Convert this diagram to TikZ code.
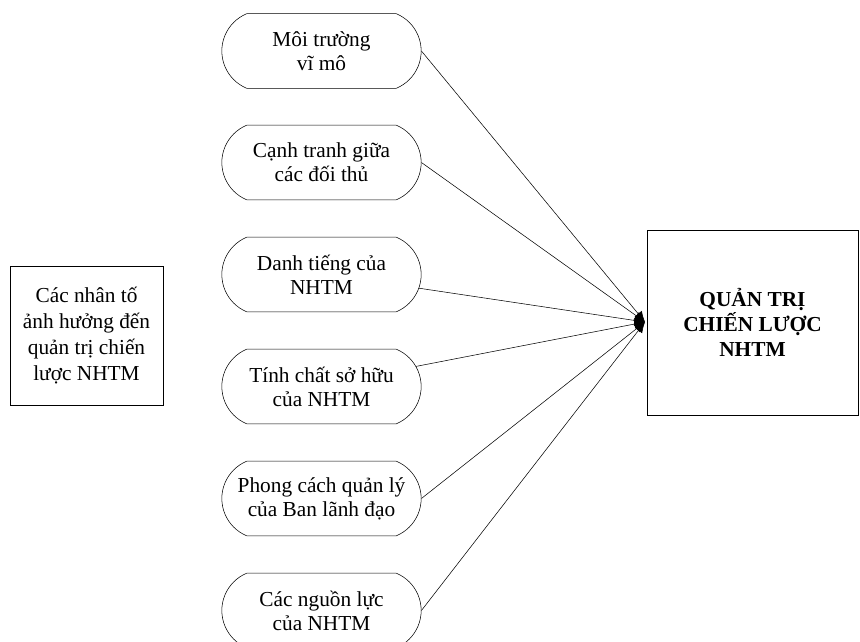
\documentclass[tikz,border=0pt]{standalone}
\usepackage{fontspec}
\setmainfont{Liberation Serif}
\usetikzlibrary{shapes.misc,arrows.meta}

\begin{document}
\begin{tikzpicture}[x=0.75pt,y=-0.75pt,
 factor/.style={draw,rounded rectangle,rounded rectangle arc length=135,
  minimum width=153.5pt,minimum height=56pt,align=center,inner sep=2pt},
 box/.style={draw,align=center},
 font=\fontsize{16}{18}\selectfont]

 \useasboundingbox (0,0) rectangle (860,642);
 \node[box,minimum width=115pt,minimum height=104pt,
  font=\fontsize{16}{19.5}\selectfont] (nhanto) at (86.5,336)
  {Các nhân tố\\ảnh hưởng đến\\quản trị chiến\\lược NHTM};
 \node[box,minimum width=158pt,minimum height=139pt,
  font=\fontsize{16}{19}\selectfont\bfseries] (quantri) at (752.5,322.5)
  {QUẢN TRỊ\\CHIẾN LƯỢC\\NHTM};
 \coordinate (hub) at (645,322);
 %
 \foreach\i/\y/\a/\t in {1/51/0/{Môi trường\\vĩ mô},
  2/162.5/0/{Cạnh tranh giữa\\các đối thủ},
  3/274.5/-8/{Danh tiếng của\\NHTM},
  4/386.5/12/{Tính chất sở hữu\\của NHTM},
  5/498.5/0/{Phong cách quản lý\\của Ban lãnh đạo},
  6/610.5/0/{Các nguồn lực\\của NHTM}}
 {\node[factor] (p\i) at (321.5,\y) {\t};
  \draw[-{Latex[length=8pt,width=7pt]}] (p\i.\a) -- (hub);}
\end{tikzpicture}
\end{document}
